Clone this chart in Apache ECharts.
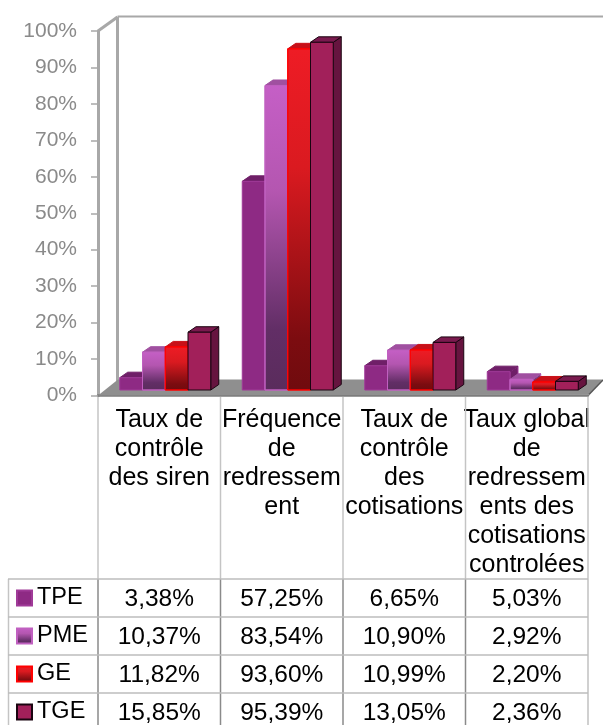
<!DOCTYPE html>
<html><head><meta charset="utf-8">
<style>html,body{margin:0;padding:0;background:#fff}#c{width:603px;height:725px}</style>
<script src="https://cdn.jsdelivr.net/npm/echarts@6/dist/echarts.min.js"></script>
</head><body><div id="c"></div>
<script>
const categories = ["Taux de\ncontrôle\ndes siren","Fréquence\nde\nredressem\nent","Taux de\ncontrôle\ndes\ncotisations","Taux global\nde\nredressem\nents des\ncotisations\ncontrolées"];
const seriesNames = ["TPE","PME","GE","TGE"];
const TPE = [3.38,57.25,6.65,5.03];
const PME = [10.37,83.54,10.90,2.92];
const GE  = [11.82,93.60,10.99,2.20];
const TGE = [15.85,95.39,13.05,2.36];

const FONT = '"Liberation Sans", Arial, sans-serif';
const grad = (stops)=>new echarts.graphic.LinearGradient(0,0,0,1,stops.map(s=>({offset:s[0],color:s[1]})));
const styles = [
 {front:'#8e2a84',top:'#6f1f68',side:'#6f1f68',stroke:'#a03a98'},
 {front:grad([[0,'#c55fc6'],[.35,'#b456b0'],[.8,'#622e66'],[1,'#5a2c5c']]),top:'#a050a0',side:'#7a3a7c',stroke:'#c060c0'},
 {front:grad([[0,'#ee1c25'],[.35,'#da1a20'],[.85,'#7c0c10'],[1,'#700b0e']]),top:'#c81018',side:'#900c10',stroke:'#ff0000'},
 {front:'#a2205a',top:'#7a1a4e',side:'#66143f',stroke:'#1a0410'}
];
const values = [TPE,PME,GE,TGE];
const BAR_GROUP = 91, OFF_X = 6, OFF_Y = -5.5, DX = 8, DY = -5.5;

function renderBar(si){
  return function(params, api){
    const p = api.coord([api.value(0), api.value(1)]);
    const base = api.coord([api.value(0), 0]);
    const w = BAR_GROUP/4;
    const x = p[0]-BAR_GROUP/2+si*w+OFF_X, yT = p[1]+OFF_Y, yB = base[1]+OFF_Y;
    const s = styles[si];
    const st = {stroke:s.stroke,lineWidth:1};
    return {type:'group',children:[
      {type:'polygon',shape:{points:[[x+w,yT],[x+w+DX,yT+DY],[x+w+DX,yB+DY],[x+w,yB]]},style:{fill:s.side,...st}},
      {type:'polygon',shape:{points:[[x,yT],[x+DX,yT+DY],[x+w+DX,yT+DY],[x+w,yT]]},style:{fill:s.top,stroke:si===3?s.stroke:s.top,lineWidth:1}},
      {type:'rect',shape:{x:x,y:yT,width:w,height:yB-yT},style:{fill:s.front,...st}}
    ]};
  };
}

const chart = echarts.init(document.getElementById('c'),null,{renderer:'canvas'});
const L=98,R=588,T=31,B=395.5;
chart.setOption({
  animation:false,
  backgroundColor:'#fff',
  grid:{left:L,top:T,width:R-L,height:B-T,containLabel:false},
  xAxis:{type:'category',data:categories,
    axisTick:{show:false},
    axisLine:{show:true,onZero:false,lineStyle:{color:'#7c7c7c',width:2.5}},
    axisLabel:{interval:0,color:'#000',fontFamily:FONT,fontSize:25,lineHeight:29,margin:10,align:'center',verticalAlign:'top'}},
  yAxis:{type:'value',min:0,max:100,interval:10,
    axisLabel:{formatter:'{value}%',color:'#8a8a8a',fontFamily:FONT,fontSize:21,margin:21,padding:[3,0,0,0]},
    axisTick:{show:true,length:7,lineStyle:{color:'#a8a8a8',width:1.5}},
    axisLine:{show:true,lineStyle:{color:'#a8a8a8',width:3}},
    splitLine:{show:false}},
  legend:{orient:'vertical',left:16,top:585,itemWidth:15,itemHeight:15,itemGap:12,selectedMode:false,icon:'rect',
    data:seriesNames,textStyle:{color:'#000',fontFamily:FONT,fontSize:23.5,lineHeight:26},padding:0},
  series:seriesNames.map((n,i)=>({
    name:n,type:'custom',coordinateSystem:'cartesian2d',z:5+i,clip:false,
    itemStyle:{color:styles[i].front,borderColor:styles[i].stroke,borderWidth:i===3?2:1},
    renderItem:renderBar(i),
    encode:{x:0,y:1},
    data:values[i].map((v,k)=>[k,v])
  }))
});

const colX = categories.map((c,k)=>chart.convertToPixel({xAxisIndex:0},k));
const band = colX[1]-colX[0];
const edges = [colX[0]-band/2].concat(colX.map(x=>x+band/2));
const rowH = [579,617,655,693];
const rowC = [599,637.5,675.5,713.5];
const g = [];
// walls and floor
g.push({type:'line',z:1,shape:{x1:L,y1:T,x2:117.5,y2:17},style:{stroke:'#a8a8a8',lineWidth:3}});
g.push({type:'line',z:1,shape:{x1:117.5,y1:17,x2:117.5,y2:382},style:{stroke:'#a8a8a8',lineWidth:3}});
g.push({type:'line',z:1,shape:{x1:117.5,y1:16.5,x2:603,y2:16.5},style:{stroke:'#a8a8a8',lineWidth:2}});
g.push({type:'polygon',z:2,shape:{points:[[L,B],[118,379.5],[603,379.5],[589,394.5]]},style:{fill:'#8f8f8f'}});
g.push({type:'line',z:3,shape:{x1:589,y1:394.5,x2:603,y2:380},style:{stroke:'#555',lineWidth:1.5}});
// table lines
edges.forEach((x,i)=>{
  g.push({type:'line',z:1,shape:{x1:x,y1:397,x2:x,y2:579},style:{stroke:'#c4c4c4',lineWidth:1.5}});
  g.push({type:'line',z:1,shape:{x1:x,y1:579,x2:x,y2:725},style:{stroke:i===4?'#c0c0c0':'#8a8a8a',lineWidth:1.5}});
});
g.push({type:'line',z:1,shape:{x1:8.5,y1:579,x2:8.5,y2:725},style:{stroke:'#c4c4c4',lineWidth:1.5}});
rowH.forEach(y=>g.push({type:'line',z:1,shape:{x1:8,y1:y,x2:edges[4],y2:y},style:{stroke:'#bdbdbd',lineWidth:1.5}}));
// table values
values.forEach((arr,r)=>arr.forEach((v,k)=>{
  g.push({type:'text',z:6,style:{x:colX[k],y:rowC[r],text:v.toFixed(2).replace('.',',')+'%',
    fill:'#000',font:'24.5px '+FONT,textAlign:'center',textVerticalAlign:'middle'}});
}));
chart.setOption({graphic:{elements:g}});
</script></body></html>
